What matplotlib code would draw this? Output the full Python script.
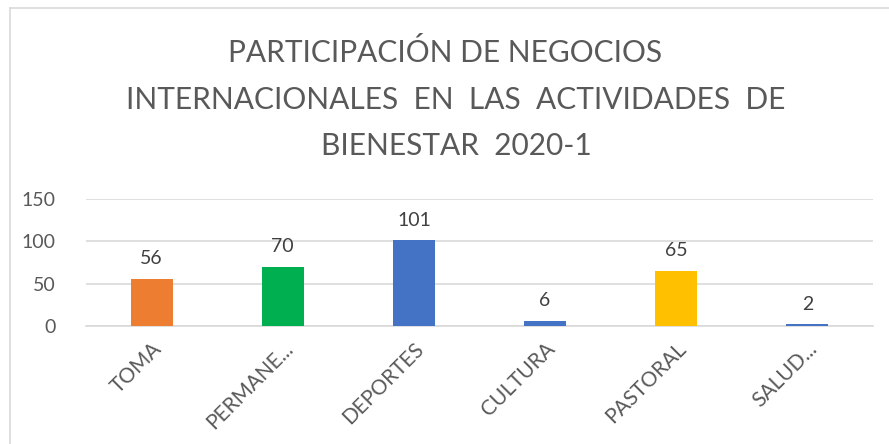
import matplotlib
matplotlib.use("Agg")
import matplotlib.pyplot as plt
from matplotlib.lines import Line2D

categories = ["TOMA", "PERMANE...", "DEPORTES", "CULTURA", "PASTORAL", "SALUD..."]
values = [56, 70, 101, 6, 65, 2]
colors = ["#ED7D31", "#00B050", "#4472C4", "#4472C4", "#FFC000", "#4472C4"]
yticks = [0, 50, 100, 150]
title_lines = ["PARTICIPACIÓN DE NEGOCIOS",
               "INTERNACIONALES  EN  LAS  ACTIVIDADES  DE",
               "BIENESTAR  2020-1"]

plt.rcParams['font.family'] = ['Lato', 'DejaVu Sans']
W, H = 889, 444
fig = plt.figure(figsize=(W/100, H/100), dpi=100)
fig.patch.set_facecolor("white")

# outer border (left & top)
fig.add_artist(Line2D([10/W, 10/W], [0, 1 - 8/H], color="#D9D9D9", lw=1.2, transform=fig.transFigure))
fig.add_artist(Line2D([10/W, 1], [1 - 8/H, 1 - 8/H], color="#D9D9D9", lw=1.2, transform=fig.transFigure))

ax_left, ax_right = 86/W, 873/W
ax_bottom, ax_top = 1 - 326/H, 1 - 199/H
ax = fig.add_axes([ax_left, ax_bottom, ax_right - ax_left, ax_top - ax_bottom])
x = list(range(len(categories)))
ax.bar(x, values, width=0.32, color=colors, zorder=3)
ax.set_xlim(-0.5, len(categories) - 0.5)
ax.set_ylim(0, 150)
ax.set_yticks(yticks)
ax.set_yticklabels([str(v) for v in yticks], fontsize=14, color="#595959")
ax.set_xticks(x)
ax.set_xticklabels(categories, rotation=45, ha="right", rotation_mode="anchor",
                   fontsize=15, color="#595959")
ax.tick_params(axis="both", length=0)
ax.tick_params(axis="y", pad=22)
ax.tick_params(axis="x", pad=9)
ax.grid(axis="y", color="#D9D9D9", lw=1.2, zorder=0)
for s in ["top", "right", "left"]:
    ax.spines[s].set_visible(False)
ax.spines["bottom"].set_color("#D9D9D9")
ax.spines["bottom"].set_linewidth(1.2)

for xi, v in zip(x, values):
    ax.annotate(str(v), (xi, v), xytext=(0, 8.5), textcoords="offset points",
                ha="center", va="bottom", fontsize=14, color="#404040")

for line, xx, yy in zip(title_lines, [445, 456, 456], [53, 100, 146]):
    fig.text(xx/W, 1 - yy/H, line, ha="center", va="center", fontsize=21.5,
             color="#595959")

fig.savefig("out.png", dpi=100)
